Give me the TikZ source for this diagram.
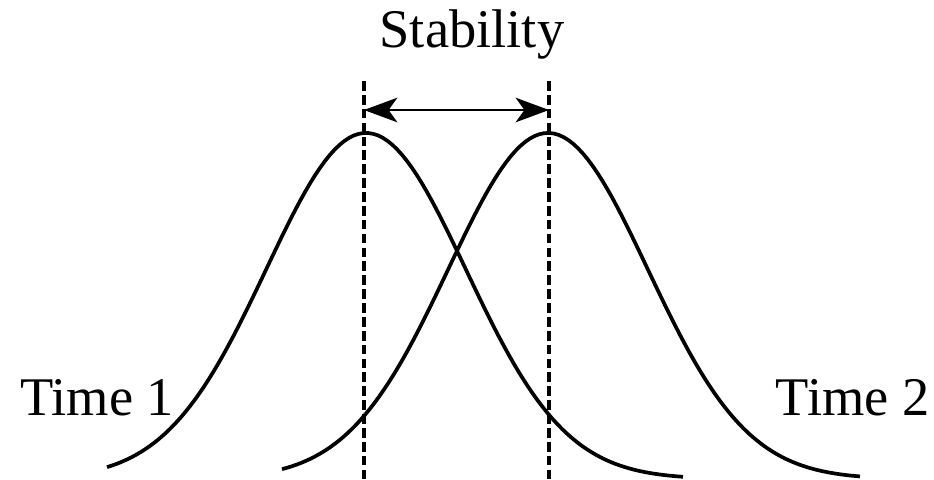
\documentclass[tikz,border=0pt]{standalone}
\usepackage{fontspec}
\setmainfont{Liberation Serif}
\usetikzlibrary{arrows.meta}

\begin{document}
\begin{tikzpicture}[x=0.02cm, y=-0.02cm, >=Stealth,
   lbl/.style={inner sep=0pt, font=\fontsize{31}{36}\selectfont},
   curve/.style={line width=2.1pt, line join=round},
   guide/.style={line width=1.8pt, dash pattern=on 5.5pt off 2.4pt},
   span/.style={line width=1pt, {Stealth[length=19pt, width=14pt, inset=5pt]}-{Stealth[length=19pt, width=14pt, inset=5pt]}}]
\useasboundingbox (0,0) rectangle (934,480);
% peak positions
\coordinate (top1) at (364,81);
\coordinate (bot1) at (364,480);
\coordinate (top2) at (549,81);
\coordinate (bot2) at (549,480);
\coordinate (a1) at (364,110);
\coordinate (a2) at (549,110);
% the two distributions
\draw[curve] plot[domain=107:683, samples=120] (\x, {479-346*exp(-((\x-366)/141)^2)});
\draw[curve] plot[domain=282:860, samples=120] (\x, {479-346*exp(-((\x-548)/141)^2)});
\draw[guide] (top1) -- (bot1);
\draw[guide] (top2) -- (bot2);
\draw[span] (a1) -- (a2);
\node[lbl, anchor=base] (stab) at (472,48) {Stability};
\node[lbl, anchor=base west] (t1) at (20,415) {Time 1};
\node[lbl, anchor=base east] (t2) at (930,415) {Time 2};
\end{tikzpicture}
\end{document}
